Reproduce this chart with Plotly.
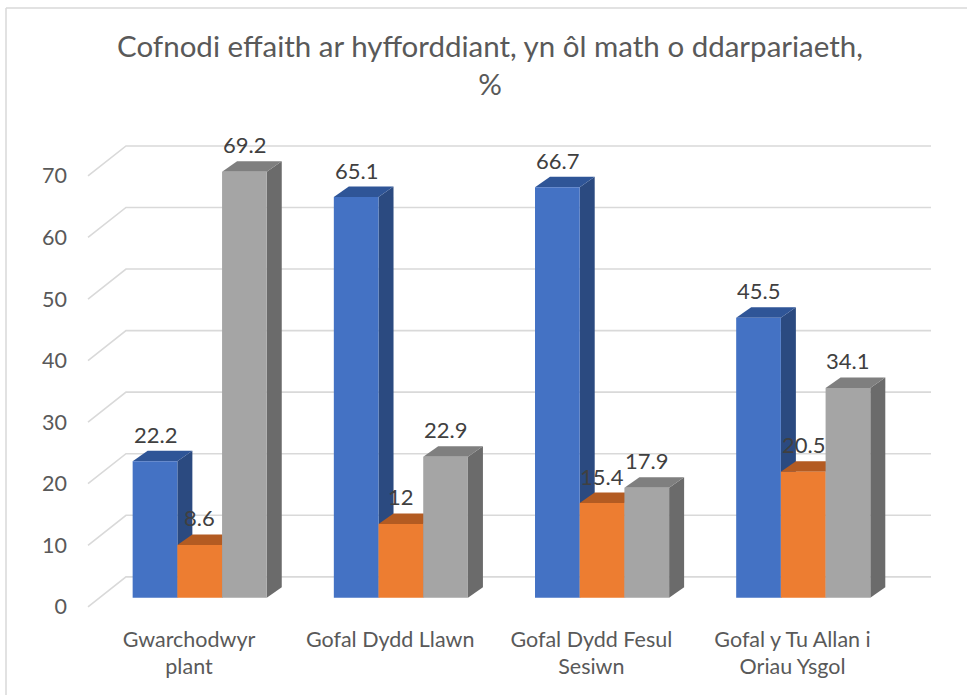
import numpy as np
import plotly.graph_objects as go

categories = ["Gwarchodwyr<br>plant", "Gofal Dydd Llawn", "Gofal Dydd Fesul<br>Sesiwn", "Gofal y Tu Allan i<br>Oriau Ysgol"]
series_a = [22.2, 65.1, 66.7, 45.5]   # blue
series_b = [8.6, 12, 15.4, 20.5]      # orange
series_c = [69.2, 22.9, 17.9, 34.1]   # grey
y_ticks = [0, 10, 20, 30, 40, 50, 60, 70]
title_text = "Cofnodi effaith ar hyfforddiant, yn ôl math o ddarpariaeth,<br>%"

W, H = 967, 695
ML, MR, MT, MB = 79, 33, 130, 83
XR = [-0.6, 3.65]
YR = [-2.3, 76.0]
px_x = (W - ML - MR) / (XR[1] - XR[0])
px_y = (H - MT - MB) / (YR[1] - YR[0])

bar_w = 0.2222
dx = 15 / px_x          # depth offset (x units)
dy = 10.5 / px_y        # depth offset (y units)
back_off = 21 / px_y    # back wall offset from bar plane
front_off = -9 / px_y   # front floor edge offset from bar plane
x_front_left = (88 - ML) / px_x + XR[0]
x_back_left = (126 - ML) / px_x + XR[0]
x_right = (931 - ML) / px_x + XR[0]

series = [
    (series_a, "#4472C4", "#2F5597", "#2B4A80"),
    (series_b, "#ED7D31", "#B35B22", "#A0501C"),
    (series_c, "#A5A5A5", "#7F7F7F", "#6B6B6B"),
]
xc = np.arange(len(categories))
font_family = "Lato, 'Open Sans', sans-serif"
txt_col = "#595959"

fig = go.Figure()
shapes = []
# gridlines (side wall + back wall)
for v in y_ticks:
    shapes.append(dict(
        type="path", layer="below",
        path=f"M {x_front_left},{v + front_off} L {x_back_left},{v + back_off} L {x_right},{v + back_off}",
        line=dict(color="#D9D9D9", width=1.6)))

annotations = []
for s, (vals, c_front, c_top, c_side) in enumerate(series):
    xs = xc + (s - 1) * bar_w
    fig.add_trace(go.Bar(x=xs, y=vals, width=bar_w, marker=dict(color=c_front, line=dict(width=0)),
                         hoverinfo="y", showlegend=False))
    for x0, v in zip(xs, vals):
        l, r = x0 - bar_w / 2, x0 + bar_w / 2
        shapes.append(dict(type="path", layer="below",
                           path=f"M {r},0 L {r + dx},{dy} L {r + dx},{v + dy} L {r},{v} Z",
                           fillcolor=c_side, line=dict(width=0)))
        shapes.append(dict(type="path", layer="below",
                           path=f"M {l},{v} L {l + dx},{v + dy} L {r + dx},{v + dy} L {r},{v} Z",
                           fillcolor=c_top, line=dict(width=0)))
        annotations.append(dict(x=x0, y=v + dy, xref="x", yref="y", text=f"{v:g}", showarrow=False,
                                yanchor="bottom", yshift=1,
                                font=dict(family=font_family, size=22, color="#404040")))

# chart border (left and top edges visible)
shapes.append(dict(type="line", xref="paper", yref="paper",
                   x0=(6 - ML) / (W - ML - MR), x1=(980 - ML) / (W - ML - MR),
                   y0=(H - MB - 8) / (H - MT - MB), y1=(H - MB - 8) / (H - MT - MB),
                   line=dict(color="#D9D9D9", width=1.5)))
shapes.append(dict(type="line", xref="paper", yref="paper",
                   x0=(6 - ML) / (W - ML - MR), x1=(6 - ML) / (W - ML - MR),
                   y0=(H - MB - 8) / (H - MT - MB), y1=-0.3,
                   line=dict(color="#D9D9D9", width=1.5)))

fig.update_layout(
    width=W, height=H,
    margin=dict(l=ML, r=MR, t=MT, b=MB, autoexpand=False),
    paper_bgcolor="white", plot_bgcolor="white",
    barmode="overlay",
    shapes=shapes,
    annotations=annotations,
    title=dict(text=title_text, x=490 / W, xanchor="center", y=1 - 57 / H, yanchor="top",
               font=dict(family=font_family, size=29.5, color=txt_col)),
    xaxis=dict(range=XR, showgrid=False, zeroline=False, showline=False, automargin=False,
               tickmode="array", tickvals=list(xc + (189 - 199.7) / px_x), ticktext=categories,
               tickfont=dict(family=font_family, size=21.5, color=txt_col), ticks="",
               ticklabelstandoff=12, fixedrange=True),
    yaxis=dict(range=YR, showgrid=False, zeroline=False, showline=False, automargin=False,
               tickmode="array", tickvals=[v + front_off for v in y_ticks], ticktext=[str(v) for v in y_ticks],
               tickfont=dict(family=font_family, size=21.5, color=txt_col), ticks="",
               ticklabelstandoff=11, fixedrange=True),
)

fig.write_html("out.html", config={"displayModeBar": False},
               post_script="document.body.style.margin='0';")
